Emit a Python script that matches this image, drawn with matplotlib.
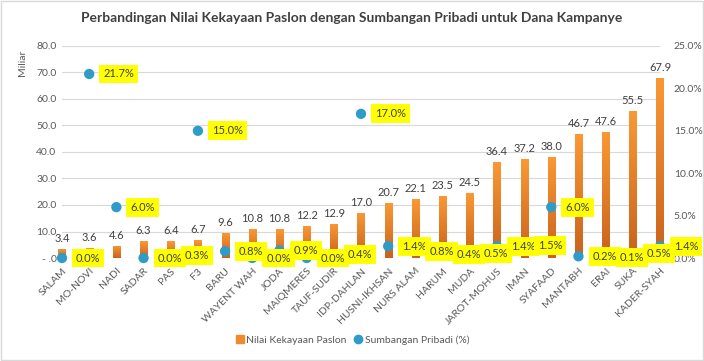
import matplotlib
matplotlib.use("Agg")
import matplotlib.pyplot as plt
import numpy as np
from matplotlib.colors import LinearSegmentedColormap
from matplotlib.lines import Line2D
from matplotlib.patches import Rectangle

plt.rcParams['font.family'] = ['Lato', 'DejaVu Sans']

# data
paslon = ['SALAM', 'MO-NOVI', 'NADI', 'SADAR', 'PAS', 'F3', 'BARU', 'WAYENT WAH',
          'JODA', 'MAIQMERES', 'TAUF-SUDIR', 'IDP-DAHLAN', 'HUSNI-IKHSAN', 'NURS ALAM',
          'HARUM', 'MUDA', 'JAROT-MOHUS', 'IMAN', 'SYAFAAD', 'MANTABH', 'ERAI', 'SUKA',
          'KADER-SYAH']
kekayaan = [3.4, 3.6, 4.6, 6.3, 6.4, 6.7, 9.6, 10.8, 10.8, 12.2, 12.9, 17.0, 20.7,
            22.1, 23.5, 24.5, 36.4, 37.2, 38.0, 46.7, 47.6, 55.5, 67.9]
sumbangan = [0.0, 21.7, 6.0, 0.0, 0.3, 15.0, 0.8, 0.0, 0.9, 0.0, 0.4, 17.0, 1.4,
             0.8, 0.4, 0.5, 1.4, 1.5, 6.0, 0.2, 0.1, 0.5, 1.4]
left_ticks = [0, 10, 20, 30, 40, 50, 60, 70, 80]
right_ticks = [0, 5, 10, 15, 20, 25]

orange = '#F08A2C'
blue = '#2E9CC6'
txt = '#595959'

fig = plt.figure(figsize=(7.04, 3.61), dpi=100)
ax = fig.add_axes([62 / 704, 1 - 258 / 361, (660 - 62) / 704, (258 - 46) / 361])
x = np.arange(len(paslon))

# bars with a vertical gradient
grad = LinearSegmentedColormap.from_list('g', ['#C9621C', '#FA9835'])
bars = ax.bar(x, kekayaan, width=0.26, color=orange, zorder=2)
for b in bars:
    x0, w, h = b.get_x(), b.get_width(), b.get_height()
    b.set_facecolor('none')
    im = ax.imshow(np.linspace(0, 1, 64).reshape(-1, 1), cmap=grad, origin='lower',
                   extent=(x0, x0 + w, 0, h), aspect='auto', zorder=2)
    im.set_clip_path(b)

for xi, v in zip(x, kekayaan):
    ax.annotate(f'{v:.1f}', (xi, v), xytext=(0, 5), textcoords='offset pixels',
                ha='center', va='bottom', fontsize=8, color='#404040',
                annotation_clip=False)

ax.set_xlim(0, len(paslon) - 1)
ax.set_ylim(0, 80)
ax.set_yticks(left_ticks)
ax.set_yticklabels(['- .0'] + [f'{t:.1f}' for t in left_ticks[1:]])
ax.set_xticks(x)
ax.set_xticklabels(paslon, rotation=45, ha='right', rotation_mode='anchor')
ax.tick_params(axis='both', length=0, labelsize=7.5, colors=txt, pad=4)
ax.tick_params(axis='x', pad=6)
ax.grid(axis='y', color='#D9D9D9', linewidth=0.8, zorder=0)
ax.set_axisbelow(True)
for s in ax.spines.values():
    s.set_visible(False)
ax.axhline(0, color='#D9D9D9', linewidth=0.8, zorder=1)

ax2 = ax.twinx()
ax2.set_ylim(0, 25)
ax2.set_yticks(right_ticks)
ax2.set_yticklabels([f'{t:.1f}%' for t in right_ticks])
ax2.tick_params(axis='y', length=0, labelsize=7.5, colors=txt, pad=10)
for s in ax2.spines.values():
    s.set_visible(False)
ax2.scatter(x, sumbangan, s=55, color=blue, zorder=3, clip_on=False, edgecolors='none')
for xi, v in zip(x, sumbangan):
    ax2.annotate(f'{v:.1f}%', (xi, v), xytext=(14, 0), textcoords='offset pixels',
                 ha='left', va='center', fontsize=8, color='#404040', zorder=4,
                 bbox=dict(boxstyle='square,pad=0.35', fc='#FFFF00', ec='none'),
                 annotation_clip=False)

fig.text(0.5, 1 - 18 / 361,
         'Perbandingan Nilai Kekayaan Paslon dengan Sumbangan Pribadi untuk Dana Kampanye',
         ha='center', va='center', fontsize=10, fontweight='bold', color='#404040')
fig.text(22 / 704, 1 - 63 / 361, 'Miliar', rotation=90, ha='center', va='center',
         fontsize=7.5, color=txt)

handles = [Line2D([], [], marker='s', linestyle='none', color=orange, markersize=6),
           Line2D([], [], marker='o', linestyle='none', color=blue, markersize=6)]
fig.legend(handles, ['Nilai Kekayaan Paslon', 'Sumbangan Pribadi (%)'],
           loc='center', bbox_to_anchor=(0.5, 1 - 340 / 361), ncol=2, frameon=False,
           fontsize=7.5, labelcolor=txt, handletextpad=0.1, columnspacing=0.6,
           handlelength=1.0)

fig.patches.append(Rectangle((0.001, 0.002), 0.997, 0.995, transform=fig.transFigure,
                             fill=False, ec='#D9D9D9', lw=1))

fig.savefig('out.png', dpi=100)
